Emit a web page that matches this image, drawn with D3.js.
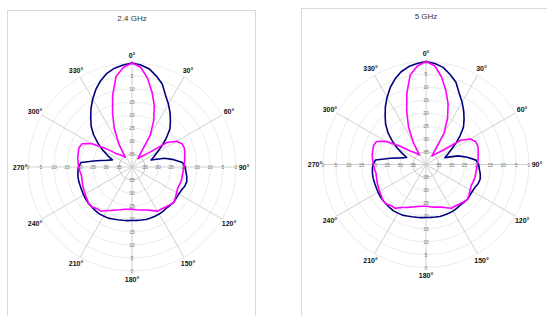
<!DOCTYPE html>
<html>
<head>
<meta charset="utf-8">
<script src="https://cdn.jsdelivr.net/npm/d3@7"></script>
<style>
  body { margin: 0; background: #fff; }
  svg { display: block; font-family: "Liberation Sans", Arial, sans-serif; }
</style>
</head>
<body>
<script>
// angle grid, degrees clockwise from north
const angles = [0, 5, 10, 15, 20, 25, 30, 35, 40, 45, 50, 55, 60, 65, 70, 75, 80, 85,
  90, 95, 100, 105, 110, 115, 120, 125, 130, 135, 140, 145, 150, 155, 160, 165, 170, 175,
  180, 185, 190, 195, 200, 205, 210, 215, 220, 225, 230, 235, 240, 245, 250, 255, 260, 265,
  270, 275, 280, 285, 290, 295, 300, 305, 310, 315, 320, 325, 330, 335, 340, 345, 350, 355];

// attenuation in dB (0 = outer ring)
const navy24 = [0, 0.6, 1.7, 3.8, 6, 9.5, 12, 14.5, 17, 19.4, 22.8, 26, 28.9, 30.7, 32.2, 27.1, 23.7, 20.5,
  19.6, 19.2, 18.6, 18.2, 18.4, 19, 19.2, 19.2, 19, 19.2, 19.4, 19.2, 19.1, 19.1, 19.1, 19.1, 19.3, 19.4,
  19.4, 19.3, 19.2, 19, 18.7, 18.3, 18.2, 18, 18.1, 18.2, 18.2, 18.3, 18.5, 18.7, 18.8, 18.8, 18.9, 19.1,
  19.4, 20.3, 26, 30, 32, 29.8, 27, 24, 20.7, 17.8, 15.3, 12.5, 9.8, 7.1, 4.7, 2.7, 1.4, 0.6];

const magenta24 = [0, 1.5, 5.4, 10.2, 14.9, 20.2, 26, 36, 35, 33.7, 31.4, 23.6, 20.2, 18.8, 18.6, 19, 19.4, 19.7,
  20, 20.3, 20.4, 20.3, 20.5, 20.6, 20.2, 19.6, 18.9, 19.4, 19.9, 20.3, 20.4, 21.5, 22.4, 22.9, 23.2, 23.5,
  23.8, 23.7, 23.5, 23, 22.4, 21.6, 20.7, 19.2, 19.1, 18.3, 18.2, 18.8, 19.2, 19.5, 19.8, 20.1, 20.3, 19.9,
  19.5, 19.2, 18.8, 18.6, 18.3, 18.8, 21.9, 27.5, 31.7, 33.3, 34.4, 35.5, 30.2, 24, 18.1, 11.3, 4.7, 1.6];

const navy5 = [0, 0.6, 1.7, 3.8, 6, 9.5, 12, 14.5, 17, 19.4, 22.8, 26, 28.9, 30.7, 32.2, 27.1, 23.7, 20.5,
  19.6, 19.2, 18.6, 18.2, 18.4, 19, 19.2, 19.2, 19, 19.2, 19.4, 19.2, 19.1, 19.1, 19.1, 19.1, 19.3, 19.4,
  19.4, 19.3, 19.2, 19, 18.7, 18.3, 18.2, 18, 18.1, 18.2, 18.2, 18.3, 18.5, 18.7, 18.8, 18.8, 18.9, 19.1,
  19.4, 20.3, 26, 30, 32, 29.8, 27, 24, 20.7, 17.8, 15.3, 12.5, 9.8, 7.1, 4.7, 2.7, 1.4, 0.6];

const magenta5 = [0, 1.5, 5.4, 10.2, 14.9, 20.2, 26, 36, 35, 33.7, 31.4, 23.6, 20.2, 18.8, 18.6, 19, 19.4, 19.7,
  20, 20.3, 20.4, 20.3, 20.5, 20.6, 20.2, 19.6, 18.9, 19.4, 19.9, 20.3, 20.4, 21.5, 22.4, 22.9, 23.2, 23.5,
  23.8, 23.7, 23.5, 23, 22.4, 21.6, 20.7, 19.2, 19.1, 18.3, 18.2, 18.8, 19.2, 19.5, 19.8, 20.1, 20.3, 19.9,
  19.5, 19.2, 18.8, 18.6, 18.3, 18.8, 21.9, 27.5, 31.7, 33.3, 34.4, 35.5, 30.2, 24, 18.1, 11.3, 4.7, 1.6];

const radialTicks = [0, 5, 10, 15, 20, 25, 30, 35];
const angleTicks = [0, 30, 60, 90, 120, 150, 180, 210, 240, 270, 300, 330];

const svg = d3.select('body').append('svg')
  .attr('width', 547)
  .attr('height', 316);

function drawPolar(opt) {
  // panel frame
  svg.append('rect')
    .attr('x', opt.box[0] + 0.5).attr('y', opt.box[1] + 0.5)
    .attr('width', opt.box[2]).attr('height', opt.box[3])
    .attr('fill', '#fff')
    .attr('stroke', '#d9d9d9');

  svg.append('text')
    .attr('x', opt.cx).attr('y', opt.titleY)
    .attr('text-anchor', 'middle')
    .attr('font-size', 8)
    .attr('fill', '#333')
    .text(opt.title);

  const g = svg.append('g').attr('transform', `translate(${opt.cx},${opt.cy})`);
  const r = d3.scaleLinear().domain([40, 0]).range([0, opt.R]);

  // rings
  g.selectAll('.ring')
    .data(radialTicks)
    .enter()
    .append('circle')
    .attr('r', d => r(d))
    .attr('fill', 'none')
    .attr('stroke', d => d === 35 ? '#bdbdbd' : '#e6e6e6')
    .attr('stroke-width', 0.8);

  // spokes
  g.selectAll('.spoke')
    .data(angleTicks)
    .enter()
    .append('line')
    .attr('x1', 0).attr('y1', 0)
    .attr('x2', d => r(0) * Math.sin(d * Math.PI / 180))
    .attr('y2', d => -r(0) * Math.cos(d * Math.PI / 180))
    .attr('stroke', '#c4c4c4')
    .attr('stroke-width', 0.8);

  // radial tick labels along the four main axes
  const dirs = [[0, -1], [0, 1], [-1, 0], [1, 0]];
  dirs.forEach(function (dir) {
    g.selectAll(null)
      .data(radialTicks)
      .enter()
      .append('text')
      .attr('x', d => dir[0] * r(d))
      .attr('y', d => dir[1] * r(d))
      .attr('text-anchor', 'middle')
      .attr('dominant-baseline', 'central')
      .attr('font-size', 5)
      .attr('fill', '#777')
      .text(d => d);
  });

  // angle labels
  g.selectAll('.alabel')
    .data(angleTicks)
    .enter()
    .append('text')
    .attr('x', d => (opt.R + 8) * Math.sin(d * Math.PI / 180))
    .attr('y', d => -(opt.R + 8) * Math.cos(d * Math.PI / 180))
    .attr('text-anchor', 'middle')
    .attr('dominant-baseline', 'central')
    .attr('font-size', 7)
    .attr('font-weight', 'bold')
    .attr('fill', '#111')
    .text(d => d + '°');

  const line = d3.lineRadial()
    .angle(d => d[0] * Math.PI / 180)
    .radius(d => r(d[1]))
    .curve(d3.curveLinearClosed);

  opt.series.forEach(function (s) {
    g.append('path')
      .datum(angles.map((a, i) => [a, s.values[i]]))
      .attr('d', line)
      .attr('fill', 'none')
      .attr('stroke', s.color)
      .attr('stroke-width', 1.6)
      .attr('stroke-linejoin', 'round');
  });
}

drawPolar({
  title: '2.4 GHz', box: [7, 10, 248, 320], titleY: 21,
  cx: 132, cy: 167, R: 104,
  series: [{ values: navy24, color: '#000080' }, { values: magenta24, color: '#ff00ff' }]
});

drawPolar({
  title: '5 GHz', box: [301, 8, 260, 320], titleY: 19,
  cx: 426, cy: 164.5, R: 103,
  series: [{ values: navy5, color: '#000080' }, { values: magenta5, color: '#ff00ff' }]
});
</script>
</body>
</html>
